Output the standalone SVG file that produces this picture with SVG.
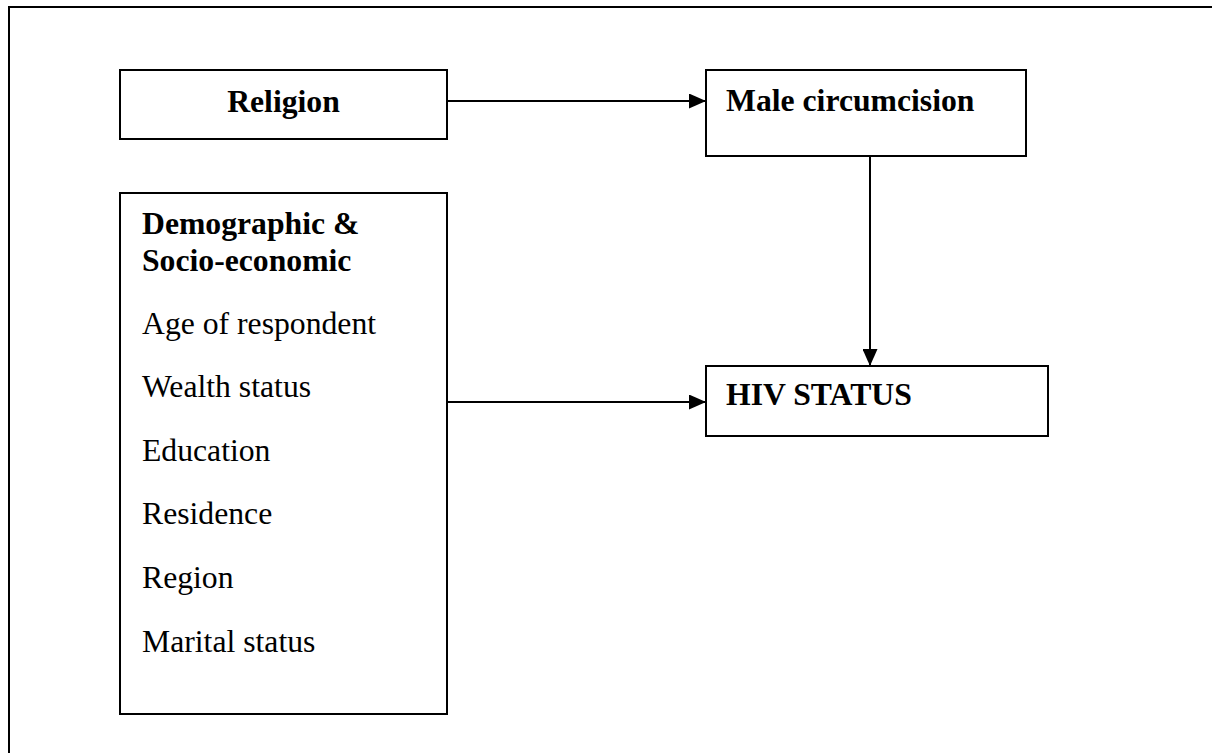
<svg xmlns="http://www.w3.org/2000/svg" width="1212" height="753" viewBox="0 0 1212 753">
<style>
.box{fill:#fff;stroke:#000;stroke-width:2}
.t{font-family:"Liberation Serif","Times New Roman",serif;font-size:31.7px;fill:#000}
.b{font-weight:bold}
.c{fill:none;stroke:#000;stroke-width:2}
</style>
<defs>
<marker id="ah" markerWidth="17" markerHeight="15" refX="17" refY="7.5" orient="auto" markerUnits="userSpaceOnUse">
<path d="M0,0 L17,7.5 L0,15 Z" fill="#000"/>
</marker>
</defs>
<rect width="1212" height="753" fill="#fff"/>
<path d="M9,753 V7 H1212" fill="none" stroke="#000" stroke-width="2"/>
<g id="religion">
<rect class="box" x="120" y="70" width="327" height="69"/>
<text class="t b" x="283.5" y="112" text-anchor="middle">Religion</text>
</g>
<g id="demographic">
<rect class="box" x="120" y="193" width="327" height="521"/>
<text class="t b" x="142" y="234">Demographic &amp;</text>
<text class="t b" x="142" y="271">Socio-economic</text>
<text class="t" x="142" y="334">Age of respondent</text>
<text class="t" x="142" y="397">Wealth status</text>
<text class="t" x="142" y="461">Education</text>
<text class="t" x="142" y="524">Residence</text>
<text class="t" x="142" y="588">Region</text>
<text class="t" x="142" y="652">Marital status</text>
</g>
<g id="male-circumcision">
<rect class="box" x="706" y="70" width="320" height="86"/>
<text class="t b" x="726" y="111">Male circumcision</text>
</g>
<g id="hiv-status">
<rect class="box" x="706" y="366" width="342" height="70"/>
<text class="t b" x="726" y="405">HIV STATUS</text>
</g>
<g id="connectors">
<line class="c" x1="447" y1="101" x2="706" y2="101" marker-end="url(#ah)"/>
<line class="c" x1="870" y1="156" x2="870" y2="366" marker-end="url(#ah)"/>
<line class="c" x1="447" y1="402" x2="706" y2="402" marker-end="url(#ah)"/>
</g>
</svg>
